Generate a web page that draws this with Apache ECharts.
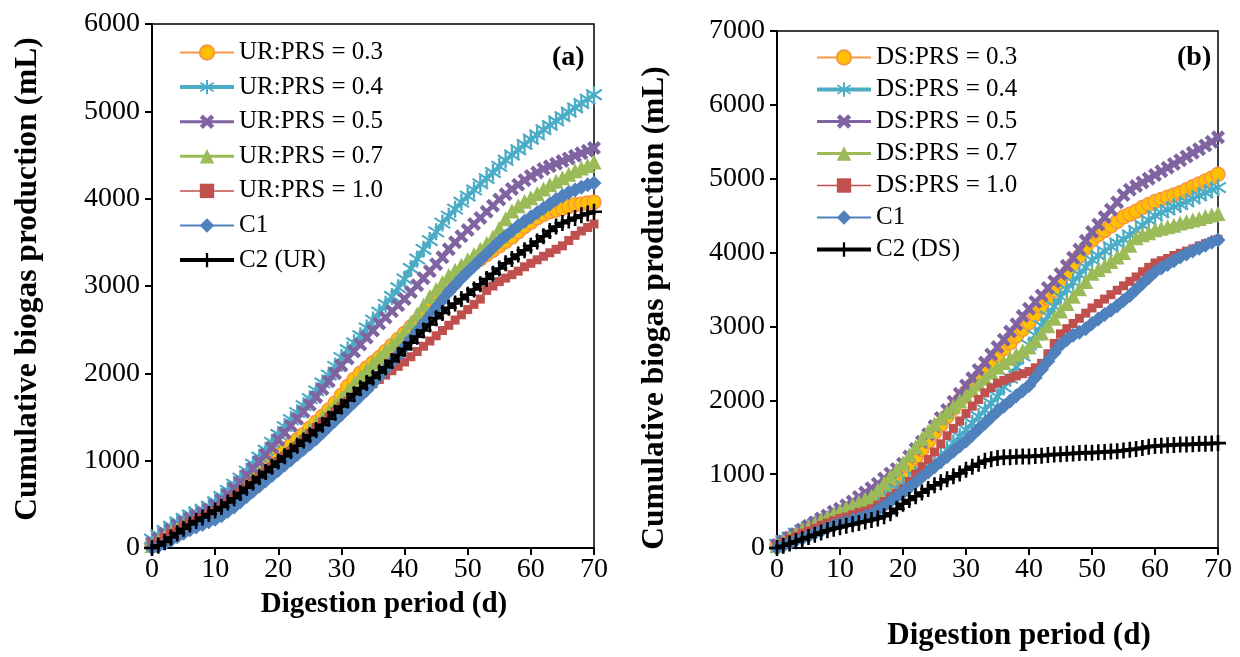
<!DOCTYPE html>
<html>
<head>
<meta charset="utf-8">
<script src="https://cdn.jsdelivr.net/npm/echarts@6/dist/echarts.min.js"></script>
<style>html,body{margin:0;padding:0;background:#fff}#c{width:1240px;height:657px}</style>
</head>
<body>
<div id="c"></div>
<script>
// ---------- DATA ----------
const days = [0,1,2,3,4,5,6,7,8,9,10,11,12,13,14,15,16,17,18,19,20,21,22,23,24,25,26,27,28,29,30,31,32,33,34,35,36,37,38,39,40,41,42,43,44,45,46,47,48,49,50,51,52,53,54,55,56,57,58,59,60,61,62,63,64,65,66,67,68,69,70];

// Panel (a)
const ur03 = [40,90,140,190,230,270,300,330,360,400,440,490,540,600,660,730,800,870,940,1010,1080,1130,1180,1240,1300,1370,1440,1510,1580,1660,1750,1850,1930,2000,2060,2120,2180,2250,2320,2390,2460,2530,2600,2680,2760,2840,2920,2990,3060,3130,3200,3260,3310,3360,3410,3460,3510,3560,3620,3680,3730,3780,3820,3850,3870,3890,3910,3930,3940,3950,3960];
const ur04 = [100,150,200,250,300,340,380,410,440,480,530,590,660,730,800,880,960,1040,1120,1210,1300,1390,1470,1550,1630,1710,1800,1890,1980,2080,2180,2270,2350,2430,2520,2610,2700,2790,2880,2980,3080,3200,3310,3420,3520,3620,3720,3800,3880,3960,4030,4100,4170,4230,4300,4370,4440,4500,4560,4620,4680,4730,4790,4840,4890,4940,4990,5040,5090,5140,5190];
const ur05 = [60,110,160,210,260,300,340,370,400,440,490,550,610,680,750,830,910,990,1070,1150,1240,1320,1400,1480,1560,1640,1730,1820,1910,2000,2090,2170,2250,2330,2410,2490,2570,2640,2710,2780,2850,2930,3010,3090,3170,3250,3330,3420,3500,3570,3640,3710,3780,3850,3920,3990,4050,4110,4160,4210,4260,4300,4340,4370,4400,4430,4460,4490,4520,4550,4580];
const ur07 = [30,80,130,180,220,260,290,320,350,390,430,480,530,590,650,720,780,840,900,960,1020,1090,1150,1220,1290,1360,1430,1500,1570,1640,1720,1800,1880,1960,2040,2120,2190,2260,2330,2400,2480,2580,2680,2780,2880,2960,3040,3120,3180,3240,3300,3360,3420,3490,3560,3660,3770,3860,3920,3970,4010,4060,4110,4160,4200,4240,4280,4320,4350,4380,4420];
const ur10 = [20,70,120,170,210,250,280,310,340,380,420,460,510,570,630,690,750,810,870,930,990,1050,1110,1170,1240,1310,1380,1440,1500,1560,1620,1680,1730,1780,1830,1880,1930,1980,2030,2080,2130,2190,2250,2310,2370,2430,2490,2550,2610,2670,2730,2790,2850,2950,3000,3050,3090,3130,3170,3220,3260,3300,3340,3380,3420,3460,3520,3580,3630,3670,3710];
const urC1 = [0,20,50,90,130,170,210,240,270,300,330,370,420,470,530,590,650,710,770,830,890,950,1010,1070,1130,1190,1250,1320,1390,1460,1530,1600,1670,1740,1810,1890,1970,2050,2130,2210,2300,2390,2480,2570,2660,2750,2840,2930,3010,3090,3160,3230,3300,3370,3440,3510,3570,3630,3690,3740,3790,3840,3890,3940,3990,4030,4070,4100,4130,4160,4180];
const urC2 = [0,30,70,120,170,220,270,310,350,390,430,470,520,570,630,690,750,810,870,930,990,1050,1110,1170,1230,1290,1350,1410,1480,1550,1620,1690,1760,1830,1890,1950,2010,2070,2140,2210,2280,2350,2420,2490,2560,2630,2690,2750,2800,2850,2900,2960,3020,3080,3140,3200,3260,3310,3360,3410,3460,3510,3570,3630,3680,3720,3750,3780,3810,3830,3850];

// Panel (b)
const ds03 = [30,80,130,170,220,260,300,340,370,400,440,480,520,570,620,680,740,800,870,930,1000,1110,1220,1330,1440,1560,1670,1780,1890,2000,2110,2210,2310,2410,2510,2610,2700,2780,2870,2960,3050,3160,3270,3380,3490,3600,3720,3840,3950,4060,4170,4240,4300,4360,4420,4480,4520,4560,4610,4650,4690,4720,4750,4780,4810,4850,4890,4930,4970,5010,5060];
const ds04 = [50,100,150,200,240,280,320,350,390,420,450,470,500,520,550,580,630,690,740,800,850,910,970,1030,1090,1150,1240,1330,1420,1510,1600,1690,1780,1870,1960,2050,2180,2300,2450,2600,2750,2880,3010,3140,3270,3400,3500,3600,3700,3800,3900,3960,4020,4080,4130,4180,4240,4300,4370,4440,4500,4540,4580,4620,4650,4690,4730,4770,4810,4850,4880];
const ds05 = [40,90,140,190,250,300,350,400,440,490,530,580,630,690,750,810,870,940,1010,1070,1140,1240,1340,1440,1540,1650,1760,1870,1980,2090,2200,2300,2410,2510,2620,2720,2820,2930,3030,3140,3240,3330,3420,3520,3610,3710,3820,3930,4040,4160,4280,4380,4480,4580,4680,4780,4850,4900,4950,5000,5050,5100,5150,5200,5250,5300,5350,5400,5450,5500,5560];
const ds07 = [30,80,140,190,240,280,330,380,420,460,500,540,580,620,660,700,790,880,970,1060,1150,1260,1370,1480,1580,1680,1760,1840,1920,1990,2060,2140,2220,2300,2380,2450,2510,2570,2620,2670,2720,2810,2910,3010,3110,3210,3310,3410,3510,3610,3720,3770,3820,3880,3940,4000,4100,4200,4240,4270,4310,4330,4350,4370,4400,4420,4440,4460,4490,4510,4530];
const ds10 = [20,70,120,160,200,230,270,310,340,370,400,420,450,480,500,530,580,630,690,740,800,900,1000,1100,1200,1300,1410,1520,1620,1720,1820,1920,2010,2100,2170,2230,2270,2300,2330,2360,2390,2440,2500,2630,2770,2900,2970,3040,3110,3180,3250,3310,3370,3430,3490,3550,3610,3670,3740,3800,3860,3890,3920,3960,3990,4020,4050,4090,4120,4150,4180];
const dsC1 = [0,30,60,100,130,160,200,230,270,300,330,350,380,400,430,450,510,570,630,690,750,820,890,960,1030,1100,1170,1240,1310,1380,1450,1530,1610,1690,1770,1850,1920,1990,2060,2130,2200,2310,2420,2530,2640,2750,2820,2880,2920,2970,3040,3100,3160,3220,3280,3350,3420,3500,3580,3660,3740,3790,3840,3890,3940,3980,4020,4060,4100,4140,4170];
const dsC2 = [0,30,60,90,120,150,180,210,240,260,280,300,320,340,360,380,400,430,470,530,600,650,700,750,800,850,890,930,970,1010,1060,1100,1140,1180,1200,1220,1230,1230,1235,1240,1240,1245,1250,1260,1265,1270,1275,1280,1285,1290,1290,1295,1300,1305,1310,1320,1330,1340,1355,1370,1380,1385,1390,1395,1400,1400,1405,1410,1410,1415,1420];

const namesA = ['UR:PRS = 0.3','UR:PRS = 0.4','UR:PRS = 0.5','UR:PRS = 0.7','UR:PRS = 1.0','C1','C2 (UR)'];
const namesB = ['DS:PRS = 0.3','DS:PRS = 0.4','DS:PRS = 0.5','DS:PRS = 0.7','DS:PRS = 1.0','C1 ','C2 (DS)'];
const xTitle = 'Digestion period (d)';
const yTitle = 'Cumulative biogas production (mL)';

// ---------- STYLE HELPERS ----------
function segPath(segs, w) {
  let s = '';
  segs.forEach(([x1,y1,x2,y2]) => {
    const dx = x2-x1, dy = y2-y1, L = Math.hypot(dx,dy);
    const nx = -dy/L*w/2, ny = dx/L*w/2;
    s += 'M'+(x1+nx)+' '+(y1+ny)+' L'+(x2+nx)+' '+(y2+ny)+' L'+(x2-nx)+' '+(y2-ny)+' L'+(x1-nx)+' '+(y1-ny)+' Z ';
  });
  return 'path://' + s;
}
const symAst = segPath([[10,0,10,20],[2,4,18,16],[2,16,18,4]], 2.4);
const symX = segPath([[3,3,17,17],[3,17,17,3]], 5.5);
const symPlus = segPath([[10,0,10,20],[0,10,20,10]], 3.2);

const FONT = "'Liberation Serif','Times New Roman',serif";

const styles = [
  {color:'#F79646', lw:2,   symbol:'circle',  size:14, item:{color:'#FFC000', borderColor:'#F79646', borderWidth:1.5}},
  {color:'#4BACC6', lw:4,   symbol:symAst,    size:17, item:{color:'#4BACC6'}},
  {color:'#8064A2', lw:3,   symbol:symX,      size:14, item:{color:'#8064A2'}},
  {color:'#9BBB59', lw:3,   symbol:'triangle',size:15, item:{color:'#9BBB59'}},
  {color:'#C0504D', lw:1.5, symbol:'rect',    size:9,  item:{color:'#C0504D'}},
  {color:'#4F81BD', lw:2,   symbol:'diamond', size:15, item:{color:'#4F81BD'}},
  {color:'#000000', lw:4,   symbol:symPlus,   size:16, item:{color:'#000000'}}
];

function mkSeries(names, arrays, idx) {
  return arrays.map((arr, i) => ({
    type:'line', name:names[i], xAxisIndex:idx, yAxisIndex:idx,
    data: days.map((d, k) => [d, arr[k]]),
    symbol: styles[i].symbol, symbolSize: styles[i].size, showSymbol:true,
    lineStyle:{color:styles[i].color, width:styles[i].lw},
    itemStyle: styles[i].item,
    emphasis:{disabled:true}, z: 2 + i
  }));
}
function mkLegend(names, left, top, gap) {
  return {
    orient:'vertical', left:left, top:top, padding:0, itemGap:gap,
    itemWidth:54, itemHeight:18,
    textStyle:{fontFamily:FONT, fontSize:25, color:'#000', lineHeight:25, padding:[0,0,0,0]},
    data: names.map((n, i) => ({name:n, lineStyle:{width:styles[i].lw, color:styles[i].color}}))
  };
}
function mkX(gridIdx) {
  return {
    type:'value', gridIndex:gridIdx, min:0, max:70, interval:10,
    axisLine:{show:true, onZero:false, lineStyle:{color:'#000', width:2}},
    axisTick:{show:true, inside:false, length:7, lineStyle:{color:'#000', width:2}},
    axisLabel:{fontFamily:FONT, fontSize:28, color:'#000', margin:8, formatter:v => String(v)},
    splitLine:{show:false}
  };
}
function mkY(gridIdx, max) {
  return {
    type:'value', gridIndex:gridIdx, min:0, max:max, interval:1000,
    axisLine:{show:true, lineStyle:{color:'#000', width:2}},
    axisTick:{show:true, inside:false, length:7, lineStyle:{color:'#000', width:2}},
    axisLabel:{fontFamily:FONT, fontSize:28, color:'#000', margin:12, formatter:v => String(v)},
    splitLine:{show:false}
  };
}
function txt(text, x, y, size, rot) {
  return {type:'text', x:x, y:y, rotation:rot || 0, z:100,
    style:{text:text, fontFamily:FONT, fontSize:size, fontWeight:'bold', fill:'#000', align:'center', verticalAlign:'middle'}};
}

const chart = echarts.init(document.getElementById('c'), null, {renderer:'canvas'});
chart.setOption({
  animation:false,
  backgroundColor:'#fff',
  title:[
    {text:'(a)', left:547, top:39, textStyle:{fontFamily:FONT, fontSize:28, fontWeight:'bold', color:'#000'}},
    {text:'(b)', left:1172, top:39, textStyle:{fontFamily:FONT, fontSize:28, fontWeight:'bold', color:'#000'}}
  ],
  grid:[
    {left:152, top:24, width:442, height:524, show:true, borderColor:'#000', borderWidth:1.5, backgroundColor:'transparent'},
    {left:777, top:31, width:441, height:517, show:true, borderColor:'#000', borderWidth:1.5, backgroundColor:'transparent'}
  ],
  graphic:[
    txt(xTitle, 384, 605, 29),
    txt(xTitle, 1019, 636, 31),
    txt(yTitle, 28, 279, 31.5, Math.PI/2),
    txt(yTitle, 655, 308, 31.5, Math.PI/2)
  ],
  legend:[ mkLegend(namesA, 178, 40, 9.6), mkLegend(namesB, 815, 45, 7) ],
  xAxis:[ mkX(0), mkX(1) ],
  yAxis:[ mkY(0, 6000), mkY(1, 7000) ],
  series:[
    ...mkSeries(namesA, [ur03, ur04, ur05, ur07, ur10, urC1, urC2], 0),
    ...mkSeries(namesB, [ds03, ds04, ds05, ds07, ds10, dsC1, dsC2], 1)
  ]
});
</script>
</body>
</html>
